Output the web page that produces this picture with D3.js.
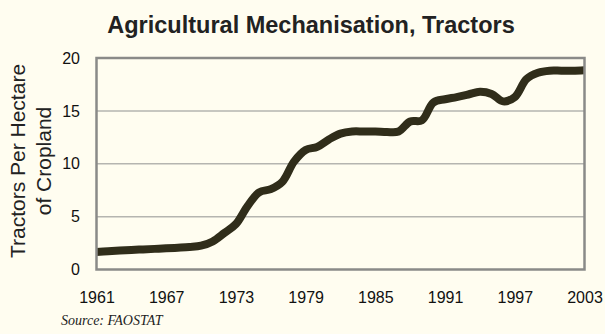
<!DOCTYPE html>
<html>
<head>
<meta charset="utf-8">
<script src="https://cdn.jsdelivr.net/npm/d3@7"></script>
<style>
  html, body { margin: 0; padding: 0; background: #fffdf0; }
  svg { display: block; }
</style>
</head>
<body>
<svg id="chart" width="605" height="334"></svg>
<script>
// Tractors per hectare of cropland, yearly 1961–2003
const years = d3.range(1961, 2004);
const tractors = [
  1.65, 1.72, 1.79, 1.85, 1.90, 1.95, 2.00, 2.06, 2.13, 2.25,
  2.65, 3.45, 4.3, 6.0, 7.3, 7.6, 8.3, 10.2, 11.3, 11.6,
  12.3, 12.85, 13.05, 13.05, 13.05, 13.0, 13.05, 14.0, 14.1, 15.8,
  16.1, 16.3, 16.55, 16.8, 16.6, 15.9, 16.3, 18.0, 18.6, 18.8,
  18.8, 18.8, 18.85
];
const xTicks = [1961, 1967, 1973, 1979, 1985, 1991, 1997, 2003];
const yTicks = [0, 5, 10, 15, 20];

const svg = d3.select("#chart");
const plot = { left: 96.5, right: 584.5, top: 58, bottom: 269.5 };

const x = d3.scaleLinear().domain([1961, 2003]).range([plot.left, plot.right]);
const y = d3.scaleLinear().domain([0, 20]).range([plot.bottom, plot.top]);

// Title
svg.append("text")
  .attr("x", 311).attr("y", 33)
  .attr("text-anchor", "middle")
  .attr("font-family", "Liberation Sans, Arial, sans-serif")
  .attr("font-weight", "bold")
  .attr("font-size", 23.5)
  .attr("fill", "#222222")
  .text("Agricultural Mechanisation, Tractors");

// Horizontal gridlines
svg.append("g")
  .selectAll("line")
  .data(yTicks.filter(d => d > 0 && d < 20))
  .join("line")
  .attr("x1", plot.left).attr("x2", plot.right)
  .attr("y1", d => y(d)).attr("y2", d => y(d))
  .attr("stroke", "#b5b5b0")
  .attr("stroke-width", 1.5);

// Series line, clipped to the plot box
svg.append("clipPath").attr("id", "plotClip")
  .append("rect")
  .attr("x", plot.left).attr("y", plot.top - 10)
  .attr("width", plot.right - plot.left).attr("height", plot.bottom - plot.top + 20);

const line = d3.line()
  .x((d, i) => x(years[i]))
  .y(d => y(d))
  .curve(d3.curveCatmullRom.alpha(0.5));

svg.append("path")
  .datum(tractors)
  .attr("clip-path", "url(#plotClip)")
  .attr("d", line)
  .attr("fill", "none")
  .attr("stroke", "#302d1a")
  .attr("stroke-width", 8)
  .attr("stroke-linejoin", "round");

// Plot frame
svg.append("rect")
  .attr("x", plot.left).attr("y", plot.top)
  .attr("width", plot.right - plot.left).attr("height", plot.bottom - plot.top)
  .attr("fill", "none")
  .attr("stroke", "#8a8a88")
  .attr("stroke-width", 2.5);

// Y axis labels
const yAxis = d3.axisLeft(y).tickValues(yTicks).tickSize(0).tickPadding(0);
const gy = svg.append("g").attr("transform", `translate(${80},0)`).call(yAxis);
gy.select(".domain").remove();
gy.selectAll("text")
  .attr("font-family", "Liberation Sans, Arial, sans-serif")
  .attr("font-size", 16)
  .attr("fill", "#111111");

// X axis labels
const xAxis = d3.axisBottom(x).tickValues(xTicks).tickFormat(d3.format("d")).tickSize(0).tickPadding(0);
const gx = svg.append("g").attr("transform", `translate(0,${292})`).call(xAxis);
gx.select(".domain").remove();
gx.selectAll("text")
  .attr("font-family", "Liberation Sans, Arial, sans-serif")
  .attr("font-size", 16)
  .attr("fill", "#111111");

// Y axis title (two lines, rotated)
const yTitle = svg.append("text")
  .attr("transform", "translate(25,161) rotate(-90)")
  .attr("text-anchor", "middle")
  .attr("font-family", "Liberation Sans, Arial, sans-serif")
  .attr("font-size", 21)
  .attr("fill", "#222222");
yTitle.append("tspan").attr("x", 0).attr("dy", 0).text("Tractors Per Hectare");
yTitle.append("tspan").attr("x", 0).attr("dy", 26).text("of Cropland");

// Source note
svg.append("text")
  .attr("x", 61).attr("y", 325)
  .attr("font-family", "Liberation Serif, Times New Roman, serif")
  .attr("font-style", "italic")
  .attr("font-size", 14)
  .attr("fill", "#222222")
  .text("Source: FAOSTAT");
</script>
</body>
</html>
